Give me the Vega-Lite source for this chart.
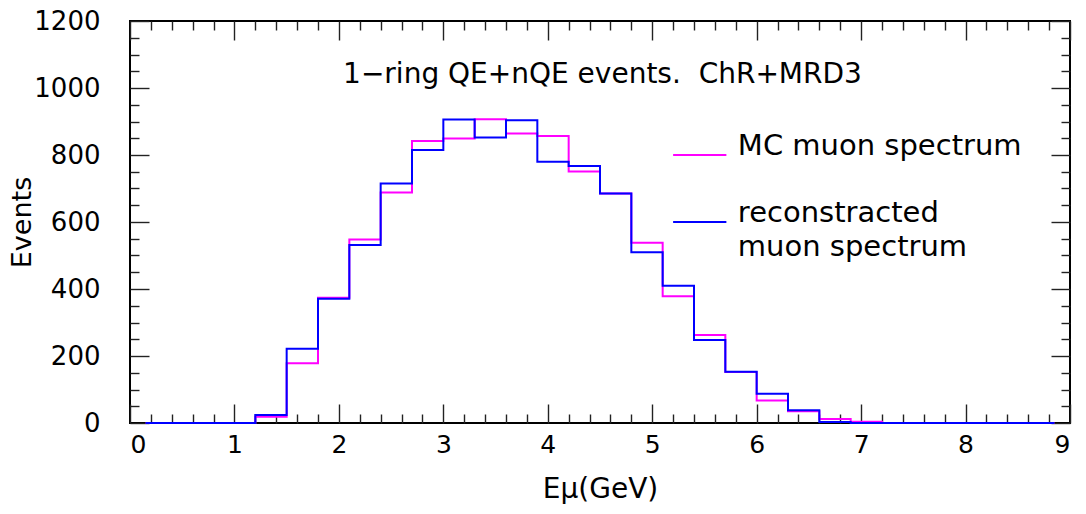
{
  "$schema": "https://vega.github.io/schema/vega-lite/v6.json",
  "width": 940,
  "height": 402,
  "autosize": {"type": "none"},
  "padding": {"left": 130, "top": 21, "right": 16, "bottom": 91},
  "background": "white",
  "config": {
    "font": "DejaVu Sans",
    "view": {"stroke": "black", "strokeWidth": 2},
    "axis": {
      "grid": false,
      "domain": false,
      "labelFont": "DejaVu Sans",
      "titleFont": "DejaVu Sans",
      "labelColor": "black",
      "titleColor": "black",
      "labelFontWeight": "normal",
      "titleFontWeight": "normal",
      "tickColor": "#222222",
      "tickWidth": 1.4
    }
  },
  "datasets": {
    "hist": [
      {"E": 0.15, "MC": 0, "Reco": 0},
      {"E": 0.45, "MC": 0, "Reco": 0},
      {"E": 0.75, "MC": 0, "Reco": 0},
      {"E": 1.05, "MC": 0, "Reco": 0},
      {"E": 1.35, "MC": 19, "Reco": 24},
      {"E": 1.65, "MC": 178, "Reco": 222},
      {"E": 1.95, "MC": 374, "Reco": 371},
      {"E": 2.25, "MC": 548, "Reco": 531},
      {"E": 2.55, "MC": 688, "Reco": 715},
      {"E": 2.85, "MC": 842, "Reco": 815},
      {"E": 3.15, "MC": 849, "Reco": 906},
      {"E": 3.45, "MC": 907, "Reco": 852},
      {"E": 3.75, "MC": 864, "Reco": 904},
      {"E": 4.05, "MC": 857, "Reco": 780},
      {"E": 4.35, "MC": 751, "Reco": 767},
      {"E": 4.65, "MC": 685, "Reco": 685},
      {"E": 4.95, "MC": 538, "Reco": 510},
      {"E": 5.25, "MC": 378, "Reco": 410},
      {"E": 5.55, "MC": 263, "Reco": 248},
      {"E": 5.85, "MC": 152, "Reco": 153},
      {"E": 6.15, "MC": 67, "Reco": 87},
      {"E": 6.45, "MC": 35, "Reco": 38},
      {"E": 6.75, "MC": 12, "Reco": 3},
      {"E": 7.05, "MC": 4, "Reco": 0},
      {"E": 7.35, "MC": 0, "Reco": 0},
      {"E": 7.65, "MC": 0, "Reco": 0},
      {"E": 7.95, "MC": 0, "Reco": 0},
      {"E": 8.25, "MC": 0, "Reco": 0},
      {"E": 8.55, "MC": 0, "Reco": 0},
      {"E": 8.85, "MC": 0, "Reco": 0}
    ],
    "keyLines": [
      {"x": 5.2, "x2": 5.71, "y": 800, "series": "MC"},
      {"x": 5.2, "x2": 5.71, "y": 600, "series": "Reco"}
    ],
    "keyText": [
      {"x": 5.82, "y": 800, "text": "MC muon spectrum"},
      {"x": 5.82, "y": 600, "text": "reconstracted"},
      {"x": 5.82, "y": 500, "text": "muon spectrum"}
    ],
    "heading": [
      {"x": 2.04, "y": 1015, "text": "1−ring QE+nQE events.\u00a0 ChR+MRD3"}
    ]
  },
  "resolve": {"axis": {"x": "independent", "y": "independent"}},
  "layer": [
    {
      "data": {"name": "hist"},
      "mark": {"type": "line", "interpolate": "step", "color": "#ff00ff", "strokeWidth": 2},
      "encoding": {
        "x": {
          "field": "E", "type": "quantitative",
          "scale": {"domain": [0, 9], "nice": false, "zero": false},
          "axis": {
            "orient": "bottom", "values": [0, 1, 2, 3, 4, 5, 6, 7, 8, 9], "format": "d",
            "ticks": false, "labelPadding": 9, "labelFontSize": 25,
            "title": "Eμ(GeV)", "titleFontSize": 28, "titlePadding": 18
          }
        },
        "y": {
          "field": "MC", "type": "quantitative",
          "scale": {"domain": [0, 1200], "nice": false},
          "axis": {
            "orient": "left", "values": [0, 200, 400, 600, 800, 1000, 1200], "format": "d",
            "ticks": false, "labelPadding": 30, "labelFontSize": 26,
            "title": "Events", "titleFontSize": 27, "titlePadding": -3
          }
        }
      }
    },
    {
      "data": {"name": "hist"},
      "mark": {"type": "line", "interpolate": "step", "color": "#0000ff", "strokeWidth": 2},
      "encoding": {
        "x": {
          "field": "E", "type": "quantitative",
          "scale": {"domain": [0, 9], "nice": false, "zero": false},
          "axis": {
            "orient": "bottom", "labels": false, "title": null, "tickSize": -9,
            "values": [0.2, 0.4, 0.6, 0.8, 1.2, 1.4, 1.6, 1.8, 2.2, 2.4, 2.6, 2.8, 3.2, 3.4, 3.6, 3.8, 4.2, 4.4, 4.6, 4.8, 5.2, 5.4, 5.6, 5.8, 6.2, 6.4, 6.6, 6.8, 7.2, 7.4, 7.6, 7.8, 8.2, 8.4, 8.6, 8.8]
          }
        },
        "y": {
          "field": "Reco", "type": "quantitative",
          "scale": {"domain": [0, 1200], "nice": false},
          "axis": {
            "orient": "left", "labels": false, "title": null, "tickSize": -9,
            "values": [50, 100, 150, 250, 300, 350, 450, 500, 550, 650, 700, 750, 850, 900, 950, 1050, 1100, 1150]
          }
        }
      }
    },
    {
      "data": {"name": "keyLines"},
      "mark": {"type": "rule", "strokeWidth": 2},
      "encoding": {
        "x": {
          "field": "x", "type": "quantitative",
          "scale": {"domain": [0, 9], "nice": false, "zero": false},
          "axis": {"orient": "bottom", "labels": false, "title": null, "tickSize": -19, "values": [0, 1, 2, 3, 4, 5, 6, 7, 8, 9]}
        },
        "x2": {"field": "x2"},
        "y": {
          "field": "y", "type": "quantitative",
          "scale": {"domain": [0, 1200], "nice": false},
          "axis": {"orient": "left", "labels": false, "title": null, "tickSize": -19, "values": [0, 200, 400, 600, 800, 1000, 1200]}
        },
        "color": {
          "field": "series", "type": "nominal",
          "scale": {"domain": ["MC", "Reco"], "range": ["#ff00ff", "#0000ff"]},
          "legend": null
        }
      }
    },
    {
      "data": {"name": "keyText"},
      "mark": {"type": "text", "align": "left", "baseline": "alphabetic", "fontSize": 29, "font": "DejaVu Sans", "color": "black"},
      "encoding": {
        "x": {
          "field": "x", "type": "quantitative",
          "scale": {"domain": [0, 9], "nice": false, "zero": false},
          "axis": {"orient": "top", "labels": false, "title": null, "tickSize": -19, "values": [0, 1, 2, 3, 4, 5, 6, 7, 8, 9]}
        },
        "y": {
          "field": "y", "type": "quantitative",
          "scale": {"domain": [0, 1200], "nice": false},
          "axis": {"orient": "right", "labels": false, "title": null, "tickSize": -19, "values": [0, 200, 400, 600, 800, 1000, 1200]}
        },
        "text": {"field": "text"}
      }
    },
    {
      "data": {"name": "heading"},
      "mark": {"type": "text", "align": "left", "baseline": "alphabetic", "fontSize": 28, "font": "DejaVu Sans", "color": "black"},
      "encoding": {
        "x": {
          "field": "x", "type": "quantitative",
          "scale": {"domain": [0, 9], "nice": false, "zero": false},
          "axis": {
            "orient": "top", "labels": false, "title": null, "tickSize": -9,
            "values": [0.2, 0.4, 0.6, 0.8, 1.2, 1.4, 1.6, 1.8, 2.2, 2.4, 2.6, 2.8, 3.2, 3.4, 3.6, 3.8, 4.2, 4.4, 4.6, 4.8, 5.2, 5.4, 5.6, 5.8, 6.2, 6.4, 6.6, 6.8, 7.2, 7.4, 7.6, 7.8, 8.2, 8.4, 8.6, 8.8]
          }
        },
        "y": {
          "field": "y", "type": "quantitative",
          "scale": {"domain": [0, 1200], "nice": false},
          "axis": {
            "orient": "right", "labels": false, "title": null, "tickSize": -9,
            "values": [50, 100, 150, 250, 300, 350, 450, 500, 550, 650, 700, 750, 850, 900, 950, 1050, 1100, 1150]
          }
        },
        "text": {"field": "text"}
      }
    }
  ]
}
